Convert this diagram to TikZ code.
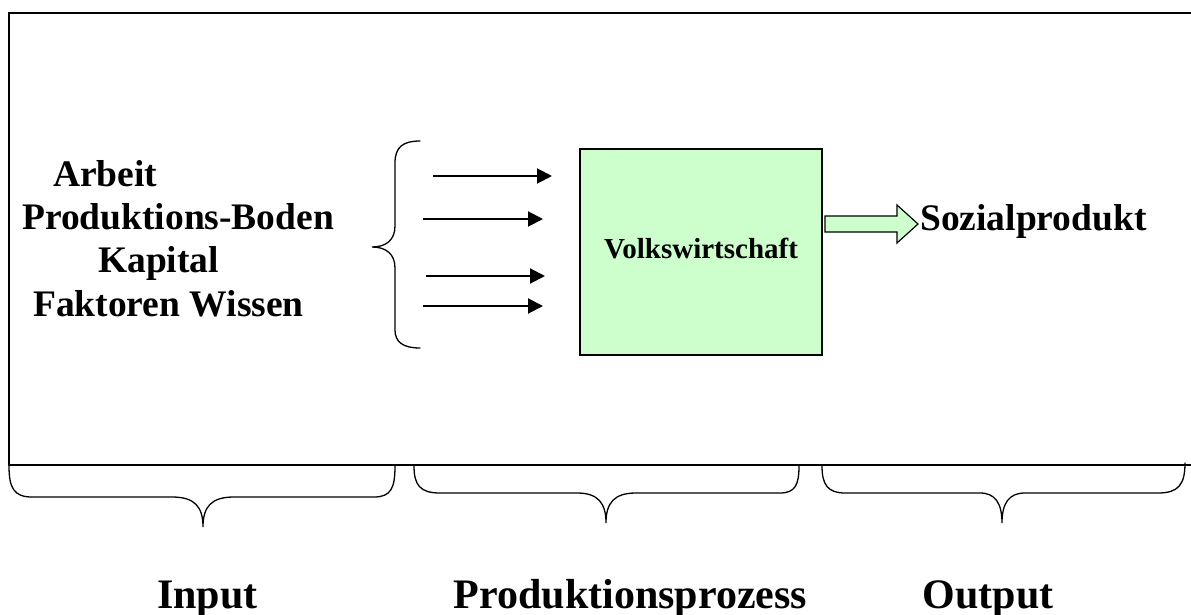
\documentclass[tikz,border=0pt]{standalone}
\usepackage{fontspec}
\setmainfont{Liberation Serif}
\usetikzlibrary{arrows.meta}
\definecolor{boxgreen}{RGB}{204,255,204}
\begin{document}
\begin{tikzpicture}[x=1pt,y=-1pt,
  frame/.style={line width=2pt},
  brace/.style={line width=1.3pt, line cap=round},
  factor/.style={font=\fontsize{37.5}{43}\selectfont\bfseries, inner sep=0pt, anchor=base west},
  stage/.style={font=\fontsize{42}{48}\selectfont\bfseries, inner sep=0pt, anchor=base},
  feed/.style={line width=2pt, -{Triangle[length=15pt,width=15pt]}},
  economy/.style={draw, fill=boxgreen, line width=1.5pt, minimum width=242pt,
    minimum height=206pt, inner sep=0pt},
]
\useasboundingbox (0,0) rectangle (1191,615);

% open frame (no right edge)
\draw[frame] (1191,13.3) -- (9.3,13.3) -- (9.3,465) -- (1191,465);

% production factors
\node[factor] (arbeit)  at (53,186) {Arbeit};
\node[factor] (boden)   at (22,229) {Produktions-Boden};
\node[factor] (kapital) at (98,272) {Kapital};
\node[factor] (wissen)  at (33,316) {Faktoren Wissen};

% brace grouping the factors
\draw[brace] (420,141) .. controls (403,141) and (395,147) .. (395,163)
  -- (395,226) .. controls (395,240) and (386,247) .. (372,247)
  .. controls (386,247) and (395,254) .. (395,268)
  -- (395,330) .. controls (395,342) and (403,348) .. (420,348);

% input arrows
\coordinate (f1s) at (433,176); \coordinate (f1e) at (552,176);
\coordinate (f2s) at (423,219); \coordinate (f2e) at (543,219);
\coordinate (f3s) at (426,276); \coordinate (f3e) at (545,276);
\coordinate (f4s) at (423,306); \coordinate (f4e) at (543,306);
\draw[feed] (f1s) -- (f1e);
\draw[feed] (f2s) -- (f2e);
\draw[feed] (f3s) -- (f3e);
\draw[feed] (f4s) -- (f4e);

% the economy
\node[economy] (vw) at (701,252) {};
\node[font=\fontsize{29}{34}\selectfont\bfseries, inner sep=0pt, anchor=base]
  (vwtext) at (701,258) {Volkswirtschaft};

% block arrow to the output
\draw[fill=boxgreen, line width=1.2pt] (825,216) -- (897,216) -- (897,205)
  -- (918,224) -- (897,243) -- (897,232) -- (825,232) -- cycle;
\node[factor] (sp) at (920,230) {Sozialprodukt};

% stage braces
\draw[brace] (9,466) .. controls (9,488) and (14,497) .. (32,497) -- (172,497)
  .. controls (195,497) and (203,507) .. (203,527)
  .. controls (203,507) and (211,497) .. (234,497) -- (374,497)
  .. controls (391,497) and (395,488) .. (395,466);
\draw[brace] (414,466) .. controls (414,485) and (420,493) .. (440,493) -- (577,493)
  .. controls (598,493) and (606,503) .. (606,523)
  .. controls (606,503) and (614,493) .. (636,493) -- (780,493)
  .. controls (795,493) and (799,485) .. (799,466);
\draw[brace] (822,466) .. controls (822,485) and (828,493) .. (845,493) -- (980,493)
  .. controls (995,493) and (1002,503) .. (1002,523)
  .. controls (1002,503) and (1009,493) .. (1025,493) -- (1158,493)
  .. controls (1178,493) and (1185,485) .. (1185,463);

% stage labels
\node[stage] (input)  at (207.5,608) {Input};
\node[stage] (prozess) at (630.5,608) {Produktionsprozess};
\node[stage] (output) at (988,608) {Output};
\end{tikzpicture}
\end{document}
